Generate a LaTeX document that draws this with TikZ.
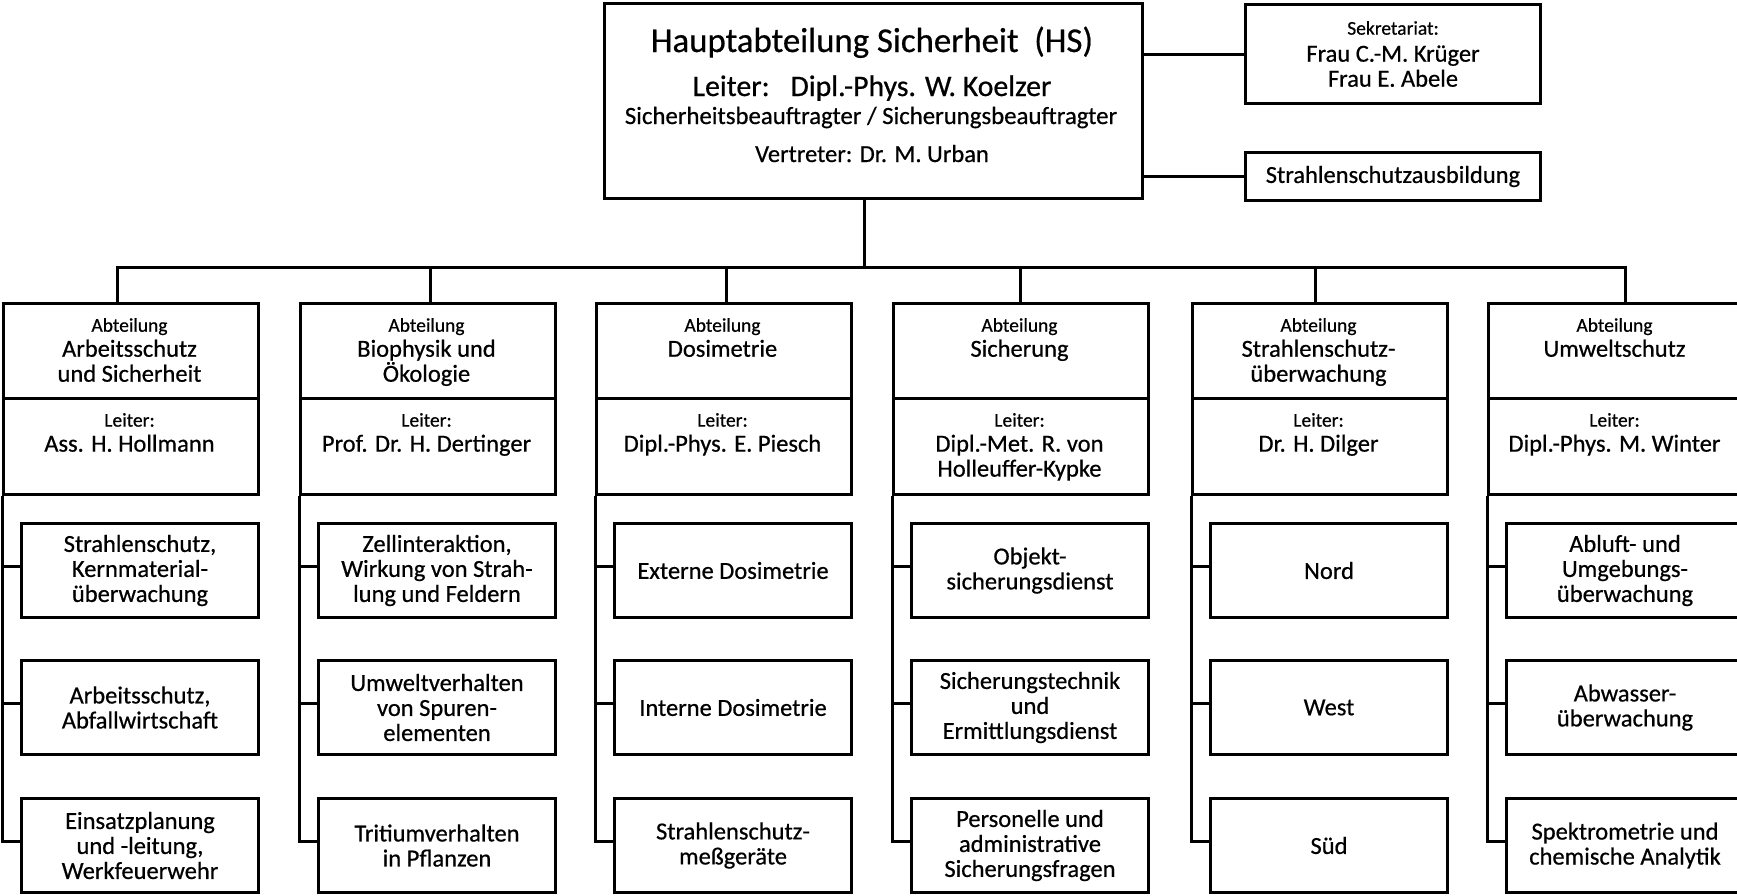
\documentclass[tikz,border=0pt]{standalone}
\usepackage{fontspec}
\setmainfont{Carlito}[FakeBold=0.6]
\usetikzlibrary{calc}

\newcommand{\gross}{\fontsize{34.8}{40}\selectfont}
\newcommand{\leitgross}{\fontsize{29.8}{34}\selectfont}
\newcommand{\mittel}{\fontsize{24.5}{25}\selectfont}
\newcommand{\klein}{\fontsize{19.5}{25}\selectfont}

\tikzset{
  kasten/.style={draw, line width=3pt, inner sep=0pt, anchor=north west},
  abtkasten/.style={kasten, minimum width=255pt},
  unterkasten/.style={kasten, minimum width=237pt, minimum height=94pt, align=center, font=\mittel},
  schrift/.style={inner sep=0pt, align=center, font=\mittel},
  linie/.style={line width=3pt}
}

\begin{document}
\begin{tikzpicture}[x=1pt,y=1pt,yscale=-1,xscale=1]
\useasboundingbox (0,0) rectangle (1737,895);

%Shape: Rectangle
\node[kasten, minimum width=538pt, minimum height=195pt] (hs) at (603,2) {};
% Text Node
\node[schrift, font=\gross, anchor=base] (hsTitel) at (872,52) {Hauptabteilung Sicherheit\hspace{0.45em}(HS)};
% Text Node
\node[schrift, font=\leitgross, anchor=base] (hsLeiter) at (872,96) {Leiter:\hspace{0.7em}Dipl.-Phys. W. Koelzer};
% Text Node
\node[schrift, font=\fontsize{24.8}{25}\selectfont, anchor=base] (hsBeauf) at (871,124) {Sicherheitsbeauftragter / Sicherungsbeauftragter};
% Text Node
\node[schrift, anchor=base] (hsVertr) at (872,162) {Vertreter: Dr. M. Urban};

%Shape: Rectangle
\node[kasten, minimum width=295pt, minimum height=99pt, align=center, font=\mittel] (sek) at (1244,3) {{\klein Sekretariat:}\\[2pt]Frau C.-M. Krüger\\Frau E. Abele};
%Shape: Rectangle
\node[kasten, minimum width=295pt, minimum height=48pt, font=\mittel] (sab) at (1244,151) {Strahlenschutzausbildung};

%Straight Lines
\draw[linie] (sek.west) -- (sek.west -| hs.east);
\draw[linie] (sab.west) -- (sab.west -| hs.east);

\coordinate (bus) at (864,267);
\coordinate (d1) at (117,267);
\coordinate (d2) at (430,267);
\coordinate (d3) at (726,267);
\coordinate (d4) at (1020,267);
\coordinate (d5) at (1315,267);
\coordinate (d6) at (1625,267);

%Shape: Rectangle -- Abteilung Arbeitsschutz und Sicherheit
\node[abtkasten, minimum height=95pt] (abt1) at (2,302) {};
\node[abtkasten, minimum height=96pt] (lei1) at (2,397) {};
% Text Node
\node[schrift, anchor=north] (abt1t) at (129.5,318) {{\klein Abteilung}\\Arbeitsschutz\\und Sicherheit};
% Text Node
\node[schrift, anchor=north] (lei1t) at (129.5,413) {{\klein Leiter:}\\Ass. H. Hollmann};
\node[unterkasten] (s11) at (20,522) {Strahlenschutz,\\Kernmaterial-\\überwachung};
\node[unterkasten] (s12) at (20,659) {Arbeitsschutz,\\Abfallwirtschaft};
\node[unterkasten] (s13) at (20,797) {Einsatzplanung\\und -leitung,\\Werkfeuerwehr};

%Shape: Rectangle -- Abteilung Biophysik und Oekologie
\node[abtkasten, minimum height=95pt] (abt2) at (299,302) {};
\node[abtkasten, minimum height=96pt] (lei2) at (299,397) {};
% Text Node
\node[schrift, anchor=north] (abt2t) at (426.5,318) {{\klein Abteilung}\\Biophysik und\\Ökologie};
% Text Node
\node[schrift, anchor=north] (lei2t) at (426.5,413) {{\klein Leiter:}\\Prof. Dr. H. Dertinger};
\node[unterkasten] (s21) at (317,522) {Zellinteraktion,\\Wirkung von Strah-\\lung und Feldern};
\node[unterkasten] (s22) at (317,659) {Umweltverhalten\\von Spuren-\\elementen};
\node[unterkasten] (s23) at (317,797) {Tritiumverhalten\\in Pflanzen};

%Shape: Rectangle -- Abteilung Dosimetrie
\node[abtkasten, minimum height=95pt] (abt3) at (595,302) {};
\node[abtkasten, minimum height=96pt] (lei3) at (595,397) {};
% Text Node
\node[schrift, anchor=north] (abt3t) at (722.5,318) {{\klein Abteilung}\\Dosimetrie};
% Text Node
\node[schrift, anchor=north] (lei3t) at (722.5,413) {{\klein Leiter:}\\Dipl.-Phys. E. Piesch};
\node[unterkasten] (s31) at (613,522) {Externe Dosimetrie};
\node[unterkasten] (s32) at (613,659) {Interne Dosimetrie};
\node[unterkasten] (s33) at (613,797) {Strahlenschutz-\\meßgeräte};

%Shape: Rectangle -- Abteilung Sicherung
\node[abtkasten, minimum height=95pt] (abt4) at (892,302) {};
\node[abtkasten, minimum height=96pt] (lei4) at (892,397) {};
% Text Node
\node[schrift, anchor=north] (abt4t) at (1019.5,318) {{\klein Abteilung}\\Sicherung};
% Text Node
\node[schrift, anchor=north] (lei4t) at (1019.5,413) {{\klein Leiter:}\\Dipl.-Met. R. von\\Holleuffer-Kypke};
\node[unterkasten] (s41) at (910,522) {Objekt-\\sicherungsdienst};
\node[unterkasten] (s42) at (910,659) {Sicherungstechnik\\und\\Ermittlungsdienst};
\node[unterkasten] (s43) at (910,797) {Personelle und\\administrative\\Sicherungsfragen};

%Shape: Rectangle -- Abteilung Strahlenschutzueberwachung
\node[abtkasten, minimum height=95pt] (abt5) at (1191,302) {};
\node[abtkasten, minimum height=96pt] (lei5) at (1191,397) {};
% Text Node
\node[schrift, anchor=north] (abt5t) at (1318.5,318) {{\klein Abteilung}\\Strahlenschutz-\\überwachung};
% Text Node
\node[schrift, anchor=north] (lei5t) at (1318.5,413) {{\klein Leiter:}\\Dr. H. Dilger};
\node[unterkasten] (s51) at (1209,522) {Nord};
\node[unterkasten] (s52) at (1209,659) {West};
\node[unterkasten] (s53) at (1209,797) {Süd};

%Shape: Rectangle -- Abteilung Umweltschutz
\node[abtkasten, minimum height=95pt] (abt6) at (1487,302) {};
\node[abtkasten, minimum height=96pt] (lei6) at (1487,397) {};
% Text Node
\node[schrift, anchor=north] (abt6t) at (1614.5,318) {{\klein Abteilung}\\Umweltschutz};
% Text Node
\node[schrift, anchor=north] (lei6t) at (1614.5,413) {{\klein Leiter:}\\Dipl.-Phys. M. Winter};
\node[unterkasten] (s61) at (1505,522) {Abluft- und\\Umgebungs-\\überwachung};
\node[unterkasten] (s62) at (1505,659) {Abwasser-\\überwachung};
\node[unterkasten] (s63) at (1505,797) {Spektrometrie und\\chemische Analytik};

%Straight Lines -- Stamm und Sammelschiene
\draw[linie] (hs.south -| bus) -- (bus);
\draw[linie] (d1 |- abt1.north) -- (d1) -- (d6) -- (d6 |- abt6.north);
\draw[linie] (d2) -- (d2 |- abt2.north);
\draw[linie] (d3) -- (d3 |- abt3.north);
\draw[linie] (d4) -- (d4 |- abt4.north);
\draw[linie] (d5) -- (d5 |- abt5.north);

%Straight Lines -- Gruppen
\draw[linie] (lei1.south west) |- (s13.178);
\draw[linie] (s11.178) -- (s11.178 -| lei1.west);
\draw[linie] (s12.178) -- (s12.178 -| lei1.west);
\draw[linie] (lei2.south west) |- (s23.178);
\draw[linie] (s21.178) -- (s21.178 -| lei2.west);
\draw[linie] (s22.178) -- (s22.178 -| lei2.west);
\draw[linie] (lei3.south west) |- (s33.178);
\draw[linie] (s31.178) -- (s31.178 -| lei3.west);
\draw[linie] (s32.178) -- (s32.178 -| lei3.west);
\draw[linie] (lei4.south west) |- (s43.178);
\draw[linie] (s41.178) -- (s41.178 -| lei4.west);
\draw[linie] (s42.178) -- (s42.178 -| lei4.west);
\draw[linie] (lei5.south west) |- (s53.178);
\draw[linie] (s51.178) -- (s51.178 -| lei5.west);
\draw[linie] (s52.178) -- (s52.178 -| lei5.west);
\draw[linie] (lei6.south west) |- (s63.178);
\draw[linie] (s61.178) -- (s61.178 -| lei6.west);
\draw[linie] (s62.178) -- (s62.178 -| lei6.west);
\end{tikzpicture}
\end{document}
